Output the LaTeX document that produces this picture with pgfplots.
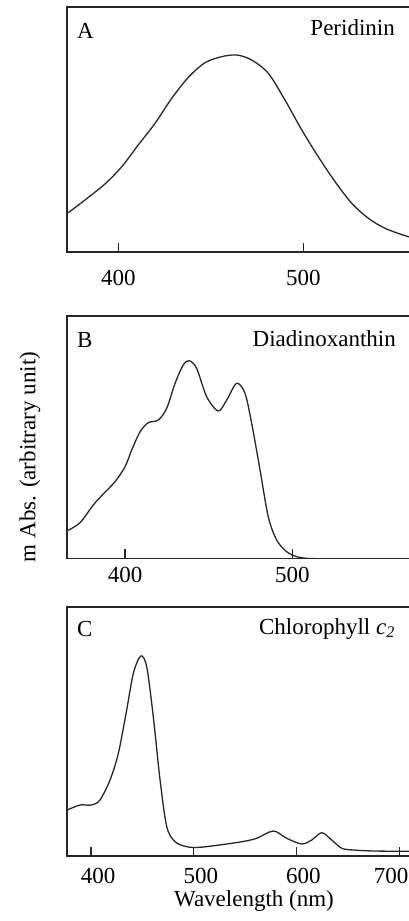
\documentclass[border=0pt]{standalone}
\usepackage{pgfplots}
\pgfplotsset{compat=1.18}
\usepackage{fontspec}
\setmainfont{Liberation Serif}
\newcommand{\bigf}{\fontsize{23}{27}\selectfont}
\pgfplotsset{
  panel/.style={
    scale only axis,
    width=363pt,
    axis line style={line width=1.8pt, black!85},
    tick align=inside,
    ytick=\empty,
    xtick pos=bottom,
    major tick length=9pt,
    xtick style={line width=1.3pt, black!85},
    ymin=0,
    tick label style={font=\bigf, /pgf/number format/assume math mode=true},
    xticklabel style={inner sep=0pt, anchor=north},
    clip=true,
  },
  curve/.style={line width=1.3pt, black!85, smooth, no marks},
}
\begin{document}
\begin{tikzpicture}
% Panel A
\begin{axis}[panel, at={(67pt,669pt)}, anchor=south west, height=245pt,
  xmin=372.3, xmax=568.5, ymax=245, xtick={400,500},
  xticklabel style={yshift=-18pt}]
\addplot[curve] coordinates {
(373,39.3) (382,52) (392.8,68) (401.9,85.3) (410.8,107) (419.9,128.7)
(428.9,153.7) (437.9,174.7) (446.9,189.3) (455.9,195.3) (464,197)
(472.1,192) (481.1,178.7) (490.1,152) (499.2,122) (508.1,95.3) (517.2,70.3)
(526.2,48.7) (535.2,33.7) (544.2,23.7) (556.8,15.3) (568,10.5)};
\end{axis}
% Panel B
\begin{axis}[panel, at={(67pt,362.5pt)}, anchor=south west, height=242.5pt,
  xmin=365.3, xmax=582.3, ymax=242.5, xtick={400,500},
  xticklabel style={yshift=-9pt}]
\addplot[curve] coordinates {
(365.5,27.8) (373.1,35.8) (381,53.5) (387,64.5) (394,76.8) (400,91.8) (404,108.5)
(409,126.8) (413.9,135.8) (419.9,138.5) (424.9,150.2) (429.9,175.2) (434.8,193.5)
(438.4,197.8) (442.8,190.2) (448.8,161.8) (455.7,147.5) (460.8,158.5) (466.7,175.2)
(471.7,165.2) (475.7,135.2) (480.7,88.5) (485.6,41.8) (490.6,18.5) (496.6,6.8)
(502.6,1.8) (508,0.2) (514,0)};
\end{axis}
% Panel C
\begin{axis}[panel, at={(67pt,65pt)}, anchor=south west, height=249.3pt,
  xmin=376.6, xmax=730, ymax=249.3, xtick={400,500,600},
  xticklabel style={yshift=-12pt, xshift=7pt},
  extra x ticks={700},
  extra x tick style={xticklabel style={xshift=-15pt}}]
\addplot[curve] coordinates {
(376.9,46) (389.3,51) (400.6,51) (408.7,56) (418.5,76) (426.6,102.7) (434.7,146)
(441.2,182.7) (448.4,200) (454.2,189.3) (460.6,139.3) (467.2,76) (473.7,29.3)
(481.8,14.3) (493.2,9.3) (506.1,8.7) (532.1,12) (548,14.5) (561.3,17.7)
(577.5,25) (590.5,17.7) (605.1,12) (614.9,16) (624.6,23.3) (634.3,16)
(644.1,7.7) (655.4,6) (674.8,5) (707.4,4.7) (730,4.5)};
\end{axis}
% panel texts
\node[anchor=north west, inner sep=0pt, font=\bigf] at (77pt,898pt) {A};
\node[anchor=north east, inner sep=0pt, font=\bigf] at (395pt,902pt) {Peridinin};
\node[anchor=north west, inner sep=0pt, font=\bigf] at (77pt,589pt) {B};
\node[anchor=north east, inner sep=0pt, font=\bigf] at (396pt,591pt) {Diadinoxanthin};
\node[anchor=north west, inner sep=0pt, font=\bigf] at (77pt,300.3pt) {C};
\node[anchor=north east, inner sep=0pt, font=\bigf] at (395pt,303pt) {Chlorophyll \textit{c}\textsubscript{\textit{2}}};
\node[rotate=90, inner sep=0pt, font=\bigf] at (30pt,464pt) {m Abs. (arbitrary unit)};
\node[inner sep=0pt, font=\bigf] at (254pt,19.5pt) {Wavelength (nm)};
\pgfresetboundingbox
\path[use as bounding box] (0pt,0pt) rectangle (408pt,921pt);
\end{tikzpicture}
\end{document}
